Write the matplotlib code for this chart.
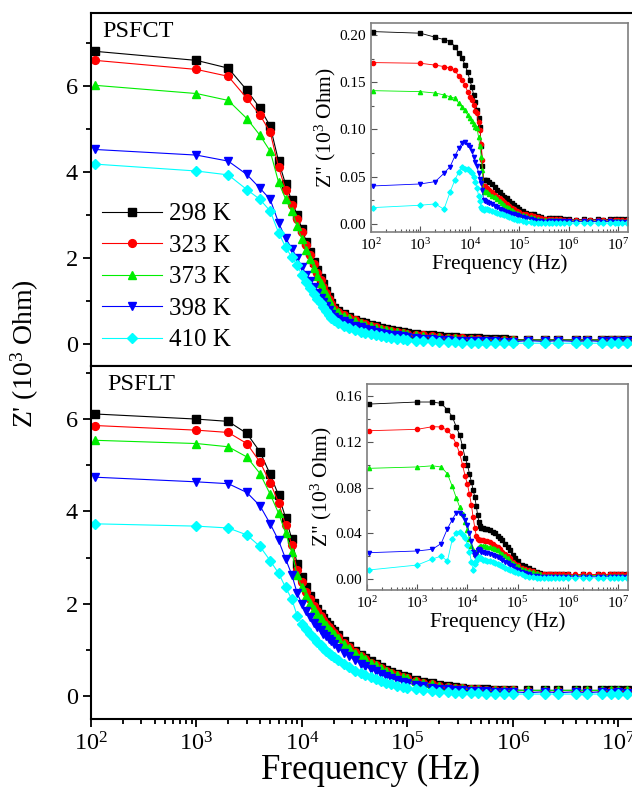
import matplotlib
matplotlib.use("Agg")
import matplotlib.pyplot as plt
from matplotlib.ticker import LogLocator, NullFormatter, MultipleLocator, AutoMinorLocator

plt.rcParams['font.family'] = 'Liberation Serif'
plt.rcParams['mathtext.fontset'] = 'custom'
plt.rcParams['mathtext.rm'] = 'Liberation Serif'
plt.rcParams['mathtext.it'] = 'Liberation Serif:italic'

# frequences (Hz), communes a toutes les courbes
freq = [110, 1e3, 2e3, 3e3, 4e3, 5e3, 6e3, 7e3, 8e3, 9e3,
        1e4, 1.1e4, 1.2e4, 1.3e4, 1.4e4, 1.5e4, 1.6e4, 1.7e4, 1.8e4, 1.9e4,
        2e4, 2.2e4, 2.5e4, 2.8e4, 3.2e4, 3.6e4, 4e4, 4.5e4, 5e4, 5.6e4,
        6.3e4, 7e4, 8e4, 9e4, 1e5, 1.2e5, 1.4e5, 1.7e5, 2e5, 2.4e5,
        2.8e5, 3.3e5, 4e5, 4.7e5, 5.6e5, 6.8e5, 8.2e5, 1e6, 1.4e6, 2e6,
        2.7e6, 4e6, 5e6, 7e6, 8.5e6, 1e7, 1.2e7, 1.5e7]

labels = ['298 K', '323 K', '373 K', '398 K', '410 K']
colors = ['#000000', '#ff0000', '#00ee00', '#0000ff', '#00ffff']
markers = ['s', 'o', '^', 'v', 'D']

# Z' PSFCT (10^3 Ohm)
zr_psfct_298 = [6.81, 6.60, 6.42, 5.91, 5.49, 5.07, 4.26, 3.72, 3.35, 3.00,
                2.69, 2.38, 2.15, 1.91, 1.72, 1.55, 1.40, 1.25, 1.10, 0.97,
                0.85, 0.78, 0.70, 0.64, 0.58, 0.53, 0.49, 0.45, 0.42, 0.39,
                0.36, 0.34, 0.31, 0.29, 0.27, 0.25, 0.23, 0.21, 0.19, 0.18,
                0.17, 0.16, 0.15, 0.14, 0.13, 0.125, 0.12, 0.115, 0.11, 0.11,
                0.11, 0.11, 0.11, 0.11, 0.11, 0.11, 0.11, 0.11]
zr_psfct_323 = [6.60, 6.39, 6.23, 5.72, 5.33, 4.93, 4.12, 3.60, 3.23, 2.92,
                2.61, 2.32, 2.08, 1.86, 1.66, 1.49, 1.34, 1.20, 1.06, 0.94,
                0.82, 0.76, 0.68, 0.62, 0.56, 0.51, 0.47, 0.43, 0.40, 0.37,
                0.34, 0.32, 0.29, 0.27, 0.25, 0.23, 0.21, 0.19, 0.17, 0.16,
                0.15, 0.14, 0.13, 0.12, 0.115, 0.11, 0.105, 0.10, 0.10, 0.10,
                0.10, 0.10, 0.10, 0.10, 0.10, 0.10, 0.10, 0.10]
zr_psfct_373 = [6.02, 5.83, 5.67, 5.25, 4.86, 4.49, 3.77, 3.38, 3.10, 2.75,
                2.45, 2.20, 1.98, 1.78, 1.60, 1.44, 1.30, 1.17, 1.04, 0.92,
                0.81, 0.75, 0.67, 0.61, 0.55, 0.50, 0.46, 0.42, 0.39, 0.36,
                0.33, 0.31, 0.28, 0.26, 0.24, 0.22, 0.20, 0.18, 0.17, 0.15,
                0.14, 0.13, 0.12, 0.115, 0.11, 0.105, 0.10, 0.10, 0.10, 0.10,
                0.10, 0.10, 0.10, 0.10, 0.10, 0.10, 0.10, 0.10]
zr_psfct_398 = [4.53, 4.40, 4.26, 3.95, 3.63, 3.37, 2.83, 2.47, 2.23, 2.01,
                1.80, 1.62, 1.47, 1.33, 1.20, 1.08, 0.98, 0.89, 0.80, 0.72,
                0.65, 0.60, 0.54, 0.49, 0.44, 0.40, 0.36, 0.33, 0.30, 0.27,
                0.25, 0.23, 0.21, 0.19, 0.17, 0.15, 0.13, 0.12, 0.11, 0.10,
                0.09, 0.085, 0.08, 0.075, 0.07, 0.07, 0.065, 0.065, 0.09, 0.07,
                0.09, 0.07, 0.09, 0.07, 0.09, 0.07, 0.09, 0.07]
zr_psfct_410 = [4.19, 4.03, 3.94, 3.60, 3.37, 3.10, 2.60, 2.26, 2.03, 1.84,
                1.62, 1.45, 1.31, 1.18, 1.06, 0.96, 0.86, 0.77, 0.69, 0.62,
                0.56, 0.50, 0.44, 0.39, 0.34, 0.30, 0.27, 0.24, 0.21, 0.19,
                0.17, 0.15, 0.13, 0.12, 0.11, 0.09, 0.08, 0.07, 0.06, 0.055,
                0.05, 0.045, 0.04, 0.04, 0.035, 0.035, 0.03, 0.03, 0.03, 0.03,
                0.03, 0.03, 0.03, 0.03, 0.03, 0.03, 0.03, 0.03]

# Z' PSFLT (10^3 Ohm)
zr_psflt_298 = [6.11, 6.00, 5.95, 5.69, 5.29, 4.80, 4.35, 3.86, 3.41, 2.86,
                2.57, 2.35, 2.16, 2.01, 1.88, 1.78, 1.69, 1.61, 1.53, 1.46,
                1.40, 1.31, 1.19, 1.09, 0.98, 0.89, 0.82, 0.75, 0.69, 0.63,
                0.57, 0.52, 0.47, 0.43, 0.40, 0.35, 0.31, 0.27, 0.24, 0.21,
                0.19, 0.175, 0.16, 0.15, 0.14, 0.135, 0.13, 0.125, 0.12, 0.12,
                0.12, 0.12, 0.12, 0.12, 0.12, 0.12, 0.12, 0.12]
zr_psflt_323 = [5.86, 5.76, 5.71, 5.47, 5.07, 4.62, 4.19, 3.70, 3.28, 2.72,
                2.46, 2.26, 2.09, 1.95, 1.83, 1.73, 1.64, 1.56, 1.49, 1.42,
                1.36, 1.27, 1.15, 1.05, 0.95, 0.86, 0.79, 0.72, 0.66, 0.60,
                0.55, 0.50, 0.45, 0.41, 0.38, 0.33, 0.29, 0.25, 0.22, 0.20,
                0.18, 0.165, 0.15, 0.14, 0.135, 0.13, 0.125, 0.12, 0.115, 0.115,
                0.115, 0.115, 0.115, 0.115, 0.115, 0.115, 0.115, 0.115]
zr_psflt_373 = [5.54, 5.47, 5.40, 5.18, 4.82, 4.37, 3.96, 3.53, 3.12, 2.61,
                2.35, 2.17, 2.02, 1.89, 1.78, 1.69, 1.61, 1.53, 1.46, 1.40,
                1.34, 1.25, 1.13, 1.04, 0.94, 0.86, 0.79, 0.72, 0.66, 0.60,
                0.55, 0.50, 0.45, 0.41, 0.38, 0.33, 0.29, 0.25, 0.22, 0.20,
                0.18, 0.165, 0.15, 0.14, 0.135, 0.13, 0.125, 0.12, 0.12, 0.12,
                0.12, 0.12, 0.12, 0.12, 0.12, 0.12, 0.12, 0.12]
zr_psflt_398 = [4.74, 4.64, 4.60, 4.41, 4.12, 3.73, 3.37, 2.97, 2.63, 2.23,
                1.99, 1.83, 1.70, 1.59, 1.50, 1.42, 1.35, 1.29, 1.23, 1.18,
                1.13, 1.04, 0.94, 0.86, 0.77, 0.70, 0.64, 0.58, 0.53, 0.48,
                0.43, 0.39, 0.35, 0.31, 0.28, 0.24, 0.21, 0.18, 0.16, 0.14,
                0.13, 0.12, 0.11, 0.105, 0.10, 0.095, 0.09, 0.09, 0.07, 0.09,
                0.07, 0.09, 0.07, 0.09, 0.07, 0.09, 0.07, 0.09]
zr_psflt_410 = [3.73, 3.68, 3.64, 3.49, 3.24, 2.93, 2.66, 2.35, 2.10, 1.74,
                1.56, 1.44, 1.34, 1.25, 1.17, 1.10, 1.04, 0.98, 0.93, 0.88,
                0.84, 0.77, 0.69, 0.62, 0.55, 0.49, 0.45, 0.40, 0.36, 0.32,
                0.28, 0.25, 0.22, 0.19, 0.17, 0.14, 0.12, 0.10, 0.09, 0.08,
                0.07, 0.065, 0.06, 0.055, 0.05, 0.05, 0.045, 0.04, 0.04, 0.04,
                0.04, 0.04, 0.04, 0.04, 0.04, 0.04, 0.04, 0.04]

# Z'' PSFCT (encart)
zi_psfct_298 = [0.2035, 0.2018, 0.1975, 0.195, 0.193, 0.1877, 0.1806, 0.1753, 0.168, 0.161,
                0.152, 0.145, 0.136, 0.129, 0.121, 0.112, 0.103, 0.082, 0.061, 0.046,
                0.047, 0.046, 0.044, 0.042, 0.039, 0.036, 0.034, 0.031, 0.029, 0.027,
                0.024, 0.022, 0.020, 0.018, 0.016, 0.014, 0.012, 0.011, 0.010, 0.008,
                0.007, 0.005, 0.006, 0.006, 0.006, 0.006, 0.005, 0.005, 0.004, 0.005,
                0.004, 0.005, 0.004, 0.005, 0.005, 0.005, 0.005, 0.005]
zi_psfct_323 = [0.1707, 0.170, 0.168, 0.1665, 0.165, 0.1626, 0.156, 0.152, 0.147, 0.140,
                0.1347, 0.131, 0.126, 0.119, 0.117, 0.108, 0.0995, 0.085, 0.068, 0.040,
                0.040, 0.038, 0.036, 0.034, 0.031, 0.029, 0.027, 0.025, 0.023, 0.021,
                0.019, 0.017, 0.016, 0.014, 0.013, 0.011, 0.010, 0.009, 0.008, 0.007,
                0.006, 0.005, 0.005, 0.005, 0.005, 0.005, 0.004, 0.004, 0.004, 0.004,
                0.004, 0.004, 0.004, 0.004, 0.004, 0.004, 0.004, 0.004]
zi_psfct_373 = [0.141, 0.140, 0.1385, 0.1365, 0.1345, 0.133, 0.1277, 0.1242, 0.1206, 0.1153,
                0.112, 0.109, 0.106, 0.103, 0.101, 0.092, 0.082, 0.071, 0.057, 0.034,
                0.035, 0.034, 0.032, 0.030, 0.028, 0.026, 0.024, 0.022, 0.020, 0.018,
                0.017, 0.015, 0.013, 0.012, 0.011, 0.009, 0.008, 0.007, 0.006, 0.005,
                0.004, 0.004, 0.004, 0.004, 0.004, 0.004, 0.003, 0.003, 0.003, 0.003,
                0.003, 0.003, 0.003, 0.003, 0.003, 0.003, 0.003, 0.003]
zi_psfct_398 = [0.0402, 0.0423, 0.0448, 0.0536, 0.0607, 0.072, 0.080, 0.086, 0.087, 0.083,
                0.081, 0.077, 0.071, 0.066, 0.061, 0.054, 0.048, 0.043, 0.036, 0.025,
                0.024, 0.023, 0.022, 0.021, 0.019, 0.018, 0.016, 0.015, 0.014, 0.013,
                0.012, 0.011, 0.010, 0.009, 0.008, 0.007, 0.006, 0.005, 0.004, 0.003,
                0.003, 0.002, 0.003, 0.003, 0.003, 0.003, 0.003, 0.003, 0.002, 0.003,
                0.002, 0.003, 0.002, 0.003, 0.002, 0.002, 0.002, 0.002]
zi_psfct_410 = [0.0173, 0.0198, 0.0212, 0.0155, 0.034, 0.0466, 0.0553, 0.060, 0.058, 0.058,
                0.056, 0.054, 0.050, 0.044, 0.038, 0.030, 0.024, 0.018, 0.016, 0.015,
                0.016, 0.016, 0.015, 0.014, 0.013, 0.012, 0.011, 0.010, 0.009, 0.008,
                0.007, 0.006, 0.005, 0.004, 0.004, 0.003, 0.002, 0.002, 0.001, 0.001,
                0.001, 0.001, 0.001, 0.001, 0.001, 0.001, 0.001, 0.001, 0.001, 0.001,
                0.001, 0.001, 0.001, 0.001, 0.001, 0.001, 0.001, 0.001]

# Z'' PSFLT (encart)
zi_psflt_298 = [0.153, 0.1548, 0.1548, 0.1536, 0.148, 0.142, 0.133, 0.126, 0.116, 0.106,
                0.100, 0.092, 0.085, 0.078, 0.072, 0.064, 0.056, 0.050, 0.046, 0.045,
                0.045, 0.044, 0.044, 0.043, 0.041, 0.040, 0.038, 0.036, 0.034, 0.031,
                0.028, 0.025, 0.021, 0.018, 0.016, 0.012, 0.011, 0.010, 0.008, 0.006,
                0.005, 0.004, 0.004, 0.004, 0.004, 0.004, 0.004, 0.004, 0.003, 0.004,
                0.003, 0.004, 0.003, 0.004, 0.004, 0.004, 0.004, 0.004]
zi_psflt_323 = [0.1297, 0.1309, 0.1332, 0.133, 0.130, 0.125, 0.118, 0.110, 0.100, 0.090,
                0.083, 0.074, 0.065, 0.054, 0.045, 0.038, 0.035, 0.034, 0.034, 0.034,
                0.034, 0.033, 0.033, 0.032, 0.031, 0.029, 0.028, 0.026, 0.024, 0.022,
                0.020, 0.018, 0.015, 0.013, 0.012, 0.010, 0.009, 0.008, 0.007, 0.005,
                0.004, 0.004, 0.004, 0.004, 0.004, 0.004, 0.004, 0.004, 0.004, 0.004,
                0.004, 0.004, 0.004, 0.004, 0.004, 0.004, 0.004, 0.004]
zi_psflt_373 = [0.0968, 0.098, 0.099, 0.098, 0.092, 0.081, 0.071, 0.063, 0.057, 0.050,
                0.043, 0.035, 0.029, 0.025, 0.022, 0.024, 0.027, 0.028, 0.029, 0.029,
                0.029, 0.029, 0.028, 0.028, 0.027, 0.026, 0.025, 0.023, 0.022, 0.020,
                0.018, 0.016, 0.014, 0.012, 0.011, 0.009, 0.008, 0.007, 0.006, 0.005,
                0.004, 0.003, 0.003, 0.003, 0.003, 0.003, 0.003, 0.003, 0.003, 0.003,
                0.003, 0.003, 0.003, 0.003, 0.003, 0.003, 0.003, 0.003]
zi_psflt_398 = [0.023, 0.0245, 0.026, 0.031, 0.044, 0.052, 0.058, 0.058, 0.055, 0.052,
                0.047, 0.040, 0.033, 0.024, 0.020, 0.022, 0.025, 0.026, 0.025, 0.024,
                0.024, 0.023, 0.023, 0.022, 0.021, 0.020, 0.019, 0.018, 0.017, 0.015,
                0.014, 0.012, 0.011, 0.009, 0.008, 0.006, 0.005, 0.004, 0.003, 0.003,
                0.002, 0.002, 0.002, 0.002, 0.002, 0.002, 0.002, 0.002, 0.002, 0.002,
                0.002, 0.002, 0.002, 0.002, 0.002, 0.002, 0.002, 0.002]
zi_psflt_410 = [0.0079, 0.0122, 0.0175, 0.020, 0.0157, 0.0347, 0.0405, 0.041, 0.0385, 0.036,
                0.030, 0.024, 0.015, 0.008, 0.013, 0.016, 0.018, 0.019, 0.018, 0.018,
                0.017, 0.017, 0.016, 0.016, 0.015, 0.014, 0.013, 0.012, 0.011, 0.010,
                0.009, 0.008, 0.007, 0.006, 0.005, 0.004, 0.003, 0.002, 0.002, 0.001,
                0.001, 0.001, 0.001, 0.001, 0.001, 0.001, 0.001, 0.001, 0.001, 0.001,
                0.001, 0.001, 0.001, 0.001, 0.001, 0.001, 0.001, 0.001]

zr_psfct = [zr_psfct_298, zr_psfct_323, zr_psfct_373, zr_psfct_398, zr_psfct_410]
zr_psflt = [zr_psflt_298, zr_psflt_323, zr_psflt_373, zr_psflt_398, zr_psflt_410]
zi_psfct = [zi_psfct_298, zi_psfct_323, zi_psfct_373, zi_psfct_398, zi_psfct_410]
zi_psflt = [zi_psflt_298, zi_psflt_323, zi_psflt_373, zi_psflt_398, zi_psflt_410]


def trace(ax, series, ms, lw):
    for y, c, m, lab in zip(series, colors, markers, labels):
        ax.plot(freq, y, color=c, marker=m, ms=ms if m != 'D' else ms * 0.9,
                lw=lw, mec=c, mfc=c, label=lab)
    ax.set_xscale('log')


def style_main(ax):
    ax.set_xlim(1e2, 10 ** 7.3)
    ax.xaxis.set_major_locator(LogLocator(base=10, numticks=12))
    ax.xaxis.set_minor_locator(LogLocator(base=10, subs=range(2, 10), numticks=12))
    ax.xaxis.set_minor_formatter(NullFormatter())
    ax.yaxis.set_major_locator(MultipleLocator(2))
    ax.yaxis.set_minor_locator(MultipleLocator(1))
    ax.tick_params(which='both', direction='out', labelsize=17.5, width=1.3)
    ax.tick_params(which='major', length=6)
    ax.tick_params(which='minor', length=3.5)
    for s in ax.spines.values():
        s.set_linewidth(1.5)


def style_inset(ax, ymin, ymax, step):
    ax.set_xlim(1e2, 10 ** 7.2)
    ax.set_ylim(ymin, ymax)
    ax.xaxis.set_major_locator(LogLocator(base=10, numticks=12))
    ax.xaxis.set_minor_locator(LogLocator(base=10, subs=range(2, 10), numticks=12))
    ax.xaxis.set_minor_formatter(NullFormatter())
    ax.yaxis.set_major_locator(MultipleLocator(step))
    ax.yaxis.set_minor_locator(AutoMinorLocator(2))
    ax.yaxis.set_major_formatter(plt.FormatStrFormatter('%.2f'))
    ax.tick_params(which='both', direction='in', labelsize=11, width=0.8, color='#555555')
    ax.tick_params(which='major', length=4)
    ax.tick_params(which='minor', length=2)
    for s in ax.spines.values():
        s.set_linewidth(1.2)
        s.set_color('#7f7f7f')
    ax.set_xlabel('Frequency (Hz)', fontsize=15.5, labelpad=1)
    ax.set_ylabel('Z" (10$^3$ Ohm)', fontsize=15.5, labelpad=1)


fig = plt.figure(figsize=(6.32, 7.95), dpi=100)

ax1 = fig.add_axes([0.144, 0.5396, 0.8845, 0.444])
trace(ax1, zr_psfct, 5.6, 0.8)
style_main(ax1)
ax1.set_ylim(-0.5, 7.7)
ax1.tick_params(axis='x', labelbottom=False)
ax1.text(0.02, 0.978, 'PSFCT', transform=ax1.transAxes, fontsize=17.5, va='top', ha='left')
ax1.legend(loc='lower left', bbox_to_anchor=(-0.012, -0.008), frameon=False, fontsize=18,
           handlelength=2.4, handletextpad=0.3, labelspacing=0.36, borderpad=0.2)

ax2 = fig.add_axes([0.144, 0.0956, 0.8845, 0.444])
trace(ax2, zr_psflt, 5.6, 0.8)
style_main(ax2)
ax2.set_ylim(-0.5, 7.15)
ax2.text(0.03, 0.978, 'PSFLT', transform=ax2.transAxes, fontsize=17.5, va='top', ha='left')
ax2.set_xlabel('Frequency (Hz)', fontsize=25, labelpad=-1)

fig.text(0.040, 0.555, "Z' (10$^3$ Ohm)", rotation=90, fontsize=20, ha='center', va='center')

in1 = fig.add_axes([0.587, 0.7082, 0.4066, 0.263])
trace(in1, zi_psfct, 3.0, 0.6)
style_inset(in1, -0.0085, 0.2127, 0.05)

in2 = fig.add_axes([0.5807, 0.2579, 0.413, 0.259])
trace(in2, zi_psflt, 3.0, 0.6)
style_inset(in2, -0.0096, 0.1705, 0.04)

fig.savefig('out.png', dpi=100)
